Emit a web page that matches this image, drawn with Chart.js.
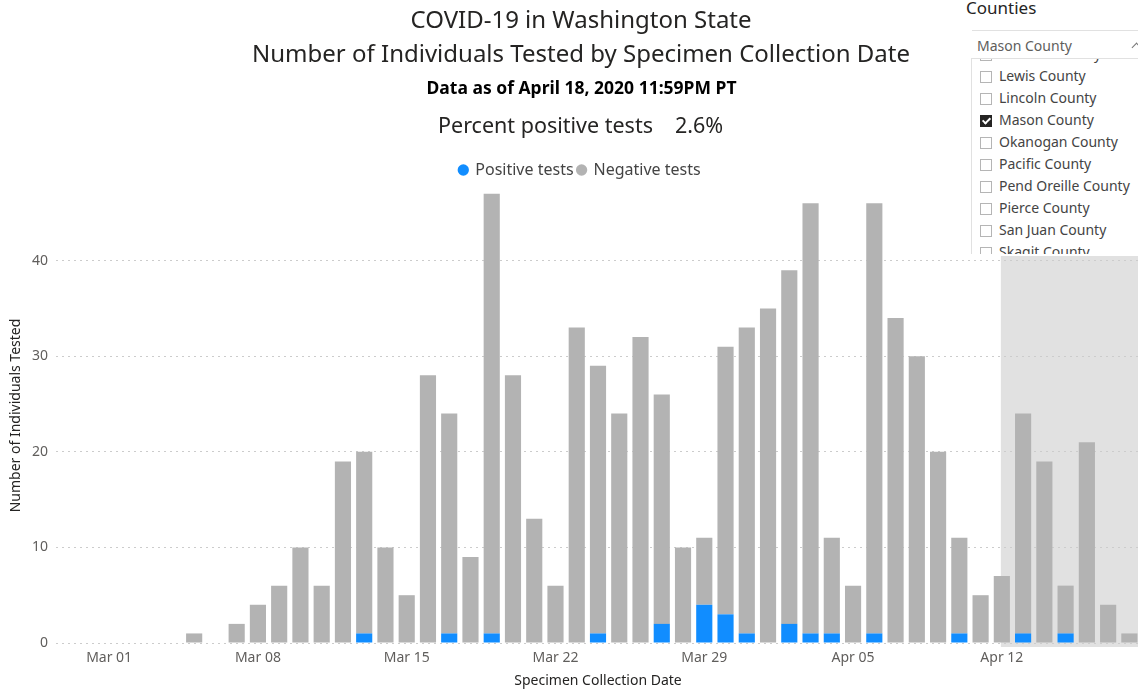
<!DOCTYPE html>
<html>
<head>
<meta charset="utf-8">
<script src="https://cdn.jsdelivr.net/npm/chart.js@4.4.1/dist/chart.umd.min.js"></script>
<style>
  html, body { margin: 0; padding: 0; background: #fff; overflow: hidden; width: 1138px; height: 689px; }
  body { position: relative; font-family: "Noto Sans", "Open Sans", sans-serif; color: #252423; }
  #wrap { position: absolute; left: 0; top: 0; width: 1150px; height: 689px; }
  .t { position: absolute; white-space: nowrap; transform-origin: center center; }
  #t1 { left: 0; width: 1162px; text-align: center; top: 4px; font-size: 24px; line-height: 30px; }
  #t2 { left: 0; width: 1162px; text-align: center; top: 38px; font-size: 24px; line-height: 30px; }
  #t3 { left: 0; width: 1163px; text-align: center; top: 76px; font-size: 17.5px; line-height: 22px; font-weight: bold; color: #000; }
  #t4 { left: 438px; top: 111px; font-size: 21.5px; line-height: 28px; }
  #t5 { left: 675px; top: 111px; font-size: 21.5px; line-height: 28px; }
  #slicer { position: absolute; left: 960px; top: 0; width: 190px; height: 256px; background: #fff; }
  #slTitle { position: absolute; left: 6px; top: -3px; font-size: 17px; line-height: 22px; color: #252423; }
  #slHead { position: absolute; left: 12px; top: 30px; width: 190px; height: 27px; border-top: 1px solid #e1e1e1; }
  #slHead span { position: absolute; left: 5px; top: 6px; font-size: 14px; line-height: 18px; color: #605e5c; }
  #chev { position: absolute; left: 161px; top: 13px; width: 6px; height: 6px; border-left: 1px solid #777; border-top: 1px solid #777; transform: rotate(45deg); }
  #slList { position: absolute; left: 11px; top: 58px; width: 190px; height: 195px; border-left: 1px solid #e1e1e1; border-top: 1px solid #e1e1e1; overflow: hidden; }
  .it { position: absolute; left: 8px; height: 22px; font-size: 14px; line-height: 22px; color: #444; white-space: nowrap; }
  .cb { position: absolute; left: 0; top: 6px; width: 10px; height: 10px; border: 1px solid #b5b5b5; background: #fff; }
  .cb.on { background: #252423; border-color: #252423; }
  .cb.on::after { content: ""; position: absolute; left: 3px; top: 0px; width: 3px; height: 6px; border-right: 2px solid #fff; border-bottom: 2px solid #fff; transform: rotate(45deg); }
  .it span { position: absolute; left: 19px; top: 0; }
</style>
</head>
<body>
<div id="wrap"><canvas id="c" width="1150" height="689"></canvas></div>

<div class="t" id="t1">COVID-19 in Washington State</div>
<div class="t" id="t2">Number of Individuals Tested by Specimen Collection Date</div>
<div class="t" id="t3">Data as of April 18, 2020 11:59PM PT</div>
<div class="t" id="t4">Percent positive tests</div>
<div class="t" id="t5">2.6%</div>

<div id="slicer">
  <div id="slTitle">Counties</div>
  <div id="slHead"><span>Mason County</span><div id="chev"></div></div>
  <div id="slList"></div>
</div>

<script>
// ---- data ----
const categories = [
  "Feb 28","Feb 29",
  "Mar 01","Mar 02","Mar 03","Mar 04","Mar 05","Mar 06","Mar 07","Mar 08","Mar 09","Mar 10",
  "Mar 11","Mar 12","Mar 13","Mar 14","Mar 15","Mar 16","Mar 17","Mar 18","Mar 19","Mar 20",
  "Mar 21","Mar 22","Mar 23","Mar 24","Mar 25","Mar 26","Mar 27","Mar 28","Mar 29","Mar 30","Mar 31",
  "Apr 01","Apr 02","Apr 03","Apr 04","Apr 05","Apr 06","Apr 07","Apr 08","Apr 09","Apr 10",
  "Apr 11","Apr 12","Apr 13","Apr 14","Apr 15","Apr 16","Apr 17","Apr 18"
];
const positiveTests = [
  0,0,
  0,0,0,0,0,0,0,0,0,0,
  0,0,1,0,0,0,1,0,1,0,
  0,0,0,1,0,0,2,0,4,3,1,
  0,2,1,1,0,1,0,0,0,1,
  0,0,1,0,1,0,0,0
];
const negativeTests = [
  0,0,
  0,0,0,0,1,0,2,4,6,10,
  6,19,19,10,5,28,23,9,46,28,
  13,6,33,28,24,32,24,10,7,28,32,
  35,37,45,10,6,45,34,30,20,10,
  5,7,23,19,5,21,4,1
];
const xTickLabels = ["Mar 01","Mar 08","Mar 15","Mar 22","Mar 29","Apr 05","Apr 12"];
const yTickValues = [0,10,20,30,40];
const countyItems = ["Klickitat County","Lewis County","Lincoln County","Mason County","Okanogan County",
  "Pacific County","Pend Oreille County","Pierce County","San Juan County","Skagit County"];
const selectedCounty = "Mason County";
const overlayStart = "Apr 12";

// ---- slicer list ----
const list = document.getElementById('slList');
countyItems.forEach((name, i) => {
  const d = document.createElement('div');
  d.className = 'it';
  d.style.top = (-16 + i * 22) + 'px';
  d.innerHTML = '<div class="cb' + (name === selectedCounty ? ' on' : '') + '"></div><span>' + name + '</span>';
  list.appendChild(d);
});

// ---- overlay plugin (light grey highlight panel behind bars) ----
const overlayPlugin = {
  id: 'overlay',
  afterLayout(chart) {
    // nudge the centred legend slightly right, as in the reference
    if (chart.legend) { chart.legend.left += 10; chart.legend.right += 10; }
  },
  beforeDraw(chart) {
    const x = chart.scales.x, y = chart.scales.y, ctx = chart.ctx;
    const left = x.getPixelForValue(categories.indexOf(overlayStart)) - 1;
    const top = y.getPixelForValue(40.5);
    const bottom = y.getPixelForValue(0) + 4;
    ctx.save();
    ctx.fillStyle = '#e1e1e1';
    ctx.fillRect(left, top, chart.width - left, bottom - top);
    ctx.restore();
  }
};

const FONT = '"Noto Sans", sans-serif';
new Chart(document.getElementById('c'), {
  type: 'bar',
  data: {
    labels: categories,
    datasets: [
      { label: 'Positive tests', data: positiveTests, backgroundColor: '#118dff', stack: 's' },
      { label: 'Negative tests', data: negativeTests, backgroundColor: '#b3b3b3', stack: 's' }
    ]
  },
  options: {
    responsive: false,
    animation: false,
    layout: { padding: { top: 158, right: 10, left: 0, bottom: 0 } },
    datasets: { bar: { categoryPercentage: 1, barPercentage: 0.76 } },
    plugins: {
      tooltip: { enabled: false },
      legend: {
        position: 'top',
        labels: {
          usePointStyle: true, pointStyle: 'circle', boxWidth: 8, boxHeight: 8,
          padding: 4, color: '#444',
          font: { family: FONT, size: 16 }
        }
      }
    },
    scales: {
      x: {
        stacked: true,
        grid: { display: false, drawTicks: false },
        border: { display: false },
        ticks: {
          autoSkip: false, maxRotation: 0, padding: 7, color: '#605e5c',
          font: { family: FONT, size: 14 },
          callback: function(v) { const l = categories[v]; return xTickLabels.includes(l) ? l : ''; }
        },
        title: { display: true, text: 'Specimen Collection Date', color: '#252423',
          font: { family: FONT, size: 14 }, padding: { top: 0, bottom: 0 } },
        afterFit(s) { s.height = 46; }
      },
      y: {
        stacked: true,
        min: 0, max: 47.6,
        border: { display: false, dash: [2, 4] },
        grid: { color: '#cccccc', lineWidth: 1, drawTicks: false },
        ticks: { stepSize: 10, padding: 8, color: '#605e5c',
          font: { family: FONT, size: 14 } },
        afterBuildTicks(s) { s.ticks = yTickValues.map(v => ({ value: v })); },
        title: { display: true, text: 'Number of Individuals Tested', color: '#252423',
          font: { family: FONT, size: 14 }, padding: { top: 8, bottom: 0 } },
        afterFit(s) { s.width = 56; }
      }
    }
  },
  plugins: [overlayPlugin]
});
</script>
</body>
</html>
